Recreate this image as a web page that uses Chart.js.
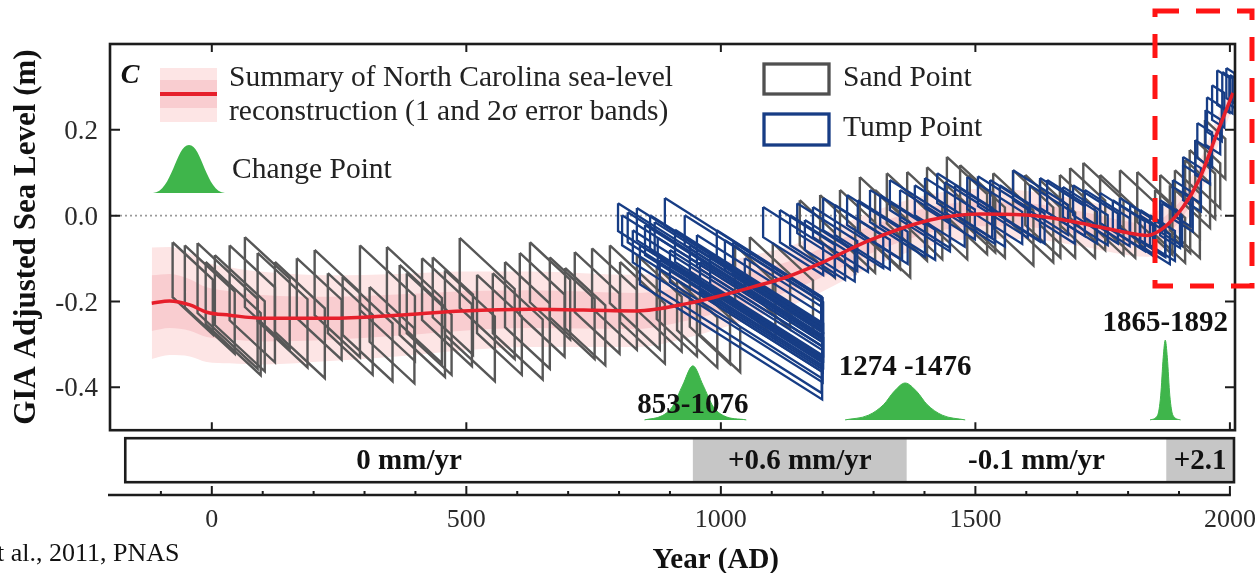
<!DOCTYPE html>
<html>
<head>
<meta charset="utf-8">
<script src="https://cdn.jsdelivr.net/npm/chart.js@4.4.0/dist/chart.umd.min.js"></script>
<style>
  html, body { margin: 0; padding: 0; background: #fff; }
  canvas { display: block; }
</style>
</head>
<body>
<canvas id="myChart" width="1255" height="573"></canvas>
<script>
// summary reconstruction (year AD, GIA adjusted level in m, 1 sigma in m)
const curveYears = [-118, -83, -43, -10, 35, 100, 232, 363, 493, 625, 835, 933, 998, 1063, 1130, 1194, 1293, 1411, 1509, 1607, 1705, 1804, 1837, 1869, 1908, 1940, 1974, 2006];
const curveLevels = [-0.204, -0.199, -0.208, -0.225, -0.232, -0.239, -0.239, -0.232, -0.222, -0.218, -0.222, -0.205, -0.187, -0.166, -0.143, -0.112, -0.057, -0.010, 0.004, 0.001, -0.017, -0.041, -0.046, -0.029, 0.020, 0.085, 0.190, 0.286];
const curveSigma = [0.065, 0.063, 0.060, 0.058, 0.056, 0.054, 0.050, 0.048, 0.046, 0.044, 0.042, 0.040, 0.038, 0.037, 0.035, 0.034, 0.032, 0.030, 0.029, 0.028, 0.027, 0.026, 0.025, 0.024, 0.022, 0.020, 0.018, 0.016];

// Sand Point samples: age range and adjusted level range at the older end
const sandGia = 0.0011;
const sandFrom = [-77, -53, -28, -12, 65, 90, 167, 228, 257, 291, 310, 344, 383, 413, 434, 487, 521, 552, 605, 625, 664, 713, 747, 782, 835, 874, 914, 959, 1057, 1102,
  1155, 1195, 1234, 1273, 1326, 1366, 1405, 1444, 1489, 1535, 1574, 1627, 1666, 1712, 1745, 1784, 1818, 1853, 1882, 1912, 1932,
  6, 35, 124, 202, 369, 458, 576, 694, 802, 939, 1028,
  1303, 1470, 1598, 1686, 1863, 1892, 1921, 1951];
const sandTo = [2, 45, 90, 96, 153, 188, 255, 316, 355, 399, 398, 452, 471, 511, 513, 595, 609, 650, 693, 704, 752, 801, 835, 880, 923, 953, 993, 1038, 1136, 1181,
  1224, 1264, 1303, 1352, 1405, 1435, 1484, 1523, 1558, 1614, 1653, 1696, 1735, 1791, 1814, 1853, 1887, 1912, 1941, 1961, 1981,
  104, 124, 222, 291, 458, 556, 664, 773, 890, 1018, 1107,
  1372, 1539, 1667, 1755, 1922, 1941, 1971, 1991];
const sandHigh = [-0.062, -0.069, -0.064, -0.108, -0.050, -0.087, -0.099, -0.134, -0.143, -0.069, -0.166, -0.073, -0.134, -0.099, -0.097, -0.052, -0.138, -0.134, -0.087, -0.062, -0.097, -0.085, -0.076, -0.069, -0.092, -0.120, -0.150, -0.173, -0.050, -0.064,
  0.036, 0.048, 0.060, 0.090, 0.099, 0.102, 0.113, 0.137, 0.095, 0.099, 0.106, 0.083, 0.095, 0.123, 0.095, 0.106, 0.102, 0.060, 0.071, 0.130, 0.176,
  -0.092, -0.069, -0.108, -0.080, -0.115, -0.127, -0.108, -0.122, -0.108, -0.131, -0.069,
  0.060, 0.118, 0.095, 0.111, 0.095, 0.106, 0.153, 0.223];
const sandLow = [-0.190, -0.214, -0.227, -0.253, -0.213, -0.246, -0.239, -0.274, -0.278, -0.220, -0.294, -0.225, -0.274, -0.243, -0.237, -0.215, -0.274, -0.274, -0.232, -0.202, -0.237, -0.225, -0.216, -0.204, -0.220, -0.241, -0.267, -0.278, -0.178, -0.192,
  -0.069, -0.057, -0.057, -0.038, -0.018, -0.026, -0.015, -0.003, -0.022, -0.029, -0.022, -0.022, -0.022, -0.005, -0.022, -0.022, -0.015, -0.045, -0.034, 0.025, 0.071,
  -0.255, -0.244, -0.271, -0.232, -0.278, -0.278, -0.260, -0.262, -0.248, -0.259, -0.197,
  -0.068, -0.010, -0.022, -0.005, -0.022, 0.001, 0.048, 0.130];

// Tump Point samples
const tumpGia = 0.00075;
const tumpFrom = [798, 817, 835, 851, 861, 876, 890, 910, 939, 953, 979, 992, 1024, 1047, 841, 880,
  1083, 1116, 1150, 1181, 1201, 1248, 1293, 1332, 1381, 1425, 1460, 1484, 1529, 1574, 1607, 1641, 1672, 1715, 1745, 1770, 1804,
  1843, 1867, 1888, 1908, 1936, 1955, 1975, 1993, 1824,
  806, 827, 870, 900, 929, 959, 1008,
  1136, 1165, 1224, 1269, 1313, 1352, 1401, 1440, 1505, 1548, 1627, 1692, 1784, 1823,
  1863, 1888, 1908, 1932, 1952, 1965, 1985, 2000];
const tumpTo = [1201, 1200, 1200, 1201, 1199, 1200, 1200, 1201, 1200, 1199, 1199, 1198, 1197, 1200, 1199, 1198,
  1201, 1224, 1268, 1289, 1319, 1356, 1401, 1450, 1479, 1533, 1558, 1592, 1627, 1682, 1695, 1739, 1760, 1803, 1833, 1849, 1873,
  1892, 1906, 1927, 1943, 1965, 1984, 1999, 2009, 1873,
  1199, 1200, 1200, 1199, 1200, 1199, 1201,
  1244, 1263, 1332, 1367, 1421, 1450, 1499, 1538, 1603, 1636, 1715, 1780, 1853, 1882,
  1902, 1923, 1943, 1961, 1981, 1989, 2005, 2010];
const tumpHigh = [0.029, 0.008, 0.018, -0.022, 0.001, -0.052, 0.041, -0.033, -0.069, -0.045, -0.092, -0.034, -0.062, -0.099, -0.069, -0.103,
  0.020, 0.013, 0.029, 0.020, 0.041, 0.048, 0.060, 0.083, 0.071, 0.099, 0.071, 0.090, 0.083, 0.106, 0.071, 0.083, 0.067, 0.060, 0.053, 0.036, 0.025,
  0.001, 0.029, 0.067, 0.137, 0.216, 0.276, 0.339, 0.344, 0.013,
  0.001, -0.034, -0.015, -0.080, 0.001, -0.108, -0.057,
  0.001, -0.010, 0.025, 0.036, 0.048, 0.060, 0.088, 0.078, 0.092, 0.071, 0.088, 0.071, 0.041, 0.001,
  0.036, 0.083, 0.118, 0.176, 0.246, 0.304, 0.335, 0.328];
const tumpLow = [-0.036, -0.062, -0.057, -0.092, -0.081, -0.122, -0.024, -0.108, -0.139, -0.120, -0.162, -0.104, -0.136, -0.169, -0.160, -0.175,
  -0.050, -0.062, -0.041, -0.050, -0.034, -0.022, -0.015, 0.013, 0.001, 0.029, 0.001, 0.015, 0.013, 0.036, 0.001, 0.008, -0.003, -0.005, -0.017, -0.034, -0.045,
  -0.069, -0.041, -0.008, 0.055, 0.134, 0.195, 0.258, 0.274, -0.057,
  -0.069, -0.109, -0.085, -0.155, -0.069, -0.178, -0.127,
  -0.069, -0.080, -0.045, -0.039, -0.022, -0.010, 0.018, 0.008, 0.022, 0.001, 0.018, 0.001, -0.029, -0.069,
  -0.046, 0.001, 0.036, 0.095, 0.165, 0.223, 0.253, 0.258];

// change point distributions
const changeBase = -0.476;
const changeYears = [
  [850, 885, 905, 925, 945, 965, 985, 1005, 1050],
  [1244, 1290, 1320, 1340, 1362, 1385, 1405, 1435, 1480],
  [1843, 1858, 1864, 1869, 1873, 1877, 1882, 1888, 1903]
];
const changeLevels = [
  [-0.476, -0.466, -0.445, -0.395, -0.350, -0.395, -0.445, -0.466, -0.476],
  [-0.476, -0.465, -0.440, -0.410, -0.390, -0.410, -0.440, -0.465, -0.476],
  [-0.476, -0.465, -0.420, -0.330, -0.290, -0.330, -0.420, -0.465, -0.476]
];
const changeLabels = ['853-1076', '1274 -1476', '1865-1892'];

// rate segments
const rateFrom = [-170, 945, 1365, 1875];
const rateTo = [945, 1365, 1875, 2008];
const rateLabels = ['0 mm/yr', '+0.6 mm/yr', '-0.1 mm/yr', '+2.1'];
const rateShaded = [false, true, false, true];

const xTicks = [0, 500, 1000, 1500, 2000];
const yTicks = [-0.4, -0.2, 0, 0.2];

const serif = "'Liberation Serif', 'Times New Roman', serif";

function boxPoints(from, to, high, low, gia) {
    const drop = gia * (to - from);
    return [
        {x: from, y: high}, {x: to, y: high - drop},
        {x: to, y: low - drop}, {x: from, y: low}, {x: from, y: high}
    ];
}

const datasets = [];

datasets.push({
    data: curveYears.map((yr, i) => ({x: yr, y: curveLevels[i]})),
    borderColor: '#e61f2b', borderWidth: 3.5, pointRadius: 0,
    cubicInterpolationMode: 'monotone', fill: false, order: 0
});

for (let i = 0; i < tumpFrom.length; i++) {
    datasets.push({
        data: boxPoints(tumpFrom[i], tumpTo[i], tumpHigh[i], tumpLow[i], tumpGia),
        borderColor: '#173d85', borderWidth: 2.3, pointRadius: 0, tension: 0,
        borderJoinStyle: 'miter', fill: false, order: 1
    });
}

for (let i = 0; i < sandFrom.length; i++) {
    datasets.push({
        data: boxPoints(sandFrom[i], sandTo[i], sandHigh[i], sandLow[i], sandGia),
        borderColor: '#575757', borderWidth: 2.4, pointRadius: 0, tension: 0,
        borderJoinStyle: 'miter', fill: false, order: 2
    });
}

changeYears.forEach((yrs, k) => {
    datasets.push({
        data: yrs.map((yr, i) => ({x: yr, y: changeLevels[k][i]})),
        borderColor: '#3fb54b', backgroundColor: '#3fb54b', borderWidth: 1,
        pointRadius: 0, cubicInterpolationMode: 'monotone',
        fill: {value: changeBase}, order: 3
    });
});

// 1 sigma band
datasets.push({
    data: curveYears.map((yr, i) => ({x: yr, y: curveLevels[i] + curveSigma[i]})),
    borderWidth: 0, pointRadius: 0, cubicInterpolationMode: 'monotone', fill: false, order: 4
});
datasets.push({
    data: curveYears.map((yr, i) => ({x: yr, y: curveLevels[i] - curveSigma[i]})),
    borderWidth: 0, pointRadius: 0, cubicInterpolationMode: 'monotone',
    fill: '-1', backgroundColor: '#f9cdd0', order: 4
});
// 2 sigma band
datasets.push({
    data: curveYears.map((yr, i) => ({x: yr, y: curveLevels[i] + 2 * curveSigma[i]})),
    borderWidth: 0, pointRadius: 0, cubicInterpolationMode: 'monotone', fill: false, order: 5
});
datasets.push({
    data: curveYears.map((yr, i) => ({x: yr, y: curveLevels[i] - 2 * curveSigma[i]})),
    borderWidth: 0, pointRadius: 0, cubicInterpolationMode: 'monotone',
    fill: '-1', backgroundColor: '#fde5e5', order: 5
});

const decorations = {
    id: 'decorations',
    beforeDatasetsDraw(chart) {
        const {ctx, scales: {x, y}} = chart;
        ctx.save();
        ctx.strokeStyle = '#9a9a9a';
        ctx.lineWidth = 1.6;
        ctx.setLineDash([2, 3]);
        ctx.beginPath();
        ctx.moveTo(x.getPixelForValue(-200), y.getPixelForValue(0));
        ctx.lineTo(x.getPixelForValue(2010), y.getPixelForValue(0));
        ctx.stroke();
        ctx.restore();
    },
    afterDatasetsDraw(chart) {
        const {ctx, scales: {x, y}, chartArea} = chart;
        const L = x.getPixelForValue(-200), R = x.getPixelForValue(2010);
        const T = y.getPixelForValue(0.4), B = y.getPixelForValue(-0.5);
        ctx.save();
        ctx.setLineDash([]);

        // change point labels
        ctx.fillStyle = '#111';
        ctx.font = 'bold 29px ' + serif;
        ctx.textAlign = 'center';
        ctx.textBaseline = 'middle';
        const labelShift = [40, -15, -17];
        changeYears.forEach((yrs, k) => {
            const peak = Math.max(...changeLevels[k]);
            const px = x.getPixelForValue(yrs[4]);
            ctx.fillText(changeLabels[k], px, y.getPixelForValue(peak) + labelShift[k]);
        });

        // plot frame
        ctx.strokeStyle = '#1c1c1c';
        ctx.lineWidth = 2.6;
        ctx.strokeRect(L, T, R - L, B - T);
        ctx.lineWidth = 2;
        ctx.beginPath();
        xTicks.forEach(v => {
            const px = x.getPixelForValue(v);
            ctx.moveTo(px, T); ctx.lineTo(px, T + 8);
            ctx.moveTo(px, B); ctx.lineTo(px, B - 8);
        });
        yTicks.forEach(v => {
            const py = y.getPixelForValue(v);
            ctx.moveTo(L, py); ctx.lineTo(L + 10, py);
            ctx.moveTo(R, py); ctx.lineTo(R - 10, py);
        });
        ctx.stroke();

        // rate band
        const bT = B + 8, bB = B + 52;
        ctx.fillStyle = '#c6c6c6';
        rateFrom.forEach((f, i) => {
            if (rateShaded[i]) {
                const a = x.getPixelForValue(f), b = x.getPixelForValue(rateTo[i]);
                ctx.fillRect(a, bT, b - a, bB - bT);
            }
        });
        const bL = x.getPixelForValue(rateFrom[0]);
        const bR = x.getPixelForValue(rateTo[rateTo.length - 1]);
        ctx.lineWidth = 2.6;
        ctx.strokeRect(bL, bT, bR - bL, bB - bT);
        ctx.fillStyle = '#111';
        ctx.font = 'bold 29px ' + serif;
        rateLabels.forEach((t, i) => {
            const mid = (x.getPixelForValue(rateFrom[i]) + x.getPixelForValue(rateTo[i])) / 2;
            ctx.fillText(t, mid, (bT + bB) / 2 + 1);
        });

        // lower x axis
        const aY = chartArea.bottom;
        ctx.strokeStyle = '#1c1c1c';
        ctx.lineWidth = 2.6;
        ctx.beginPath();
        ctx.moveTo(L - 2, aY);
        ctx.lineTo(x.getPixelForValue(2000) + 1, aY);
        ctx.stroke();
        ctx.lineWidth = 2;
        ctx.beginPath();
        for (let yr = -100; yr <= 2000; yr += 100) {
            const px = x.getPixelForValue(yr);
            const len = yr % 500 === 0 ? 9 : 4;
            ctx.moveTo(px, aY); ctx.lineTo(px, aY - len);
        }
        ctx.stroke();

        // axis titles
        ctx.fillStyle = '#111';
        ctx.font = 'bold 29px ' + serif;
        ctx.fillText('Year (AD)', x.getPixelForValue(990), 561);
        ctx.save();
        ctx.translate(27, (T + B) / 2);
        ctx.rotate(-Math.PI / 2);
        ctx.font = 'bold 31px ' + serif;
        ctx.fillText('GIA Adjusted Sea Level (m)', 0, 0);
        ctx.restore();

        // citation
        ctx.font = '26px ' + serif;
        ctx.textAlign = 'left';
        ctx.fillStyle = '#111';
        ctx.fillText('t al., 2011, PNAS', -3, 554);

        // legend
        ctx.font = 'bold italic 28px ' + serif;
        ctx.textAlign = 'center';
        ctx.fillText('C', 130, 76);

        ctx.fillStyle = '#fde5e5';
        ctx.fillRect(160, 68, 57, 54);
        ctx.fillStyle = '#f9cdd0';
        ctx.fillRect(160, 80, 57, 28);
        ctx.strokeStyle = '#e61f2b';
        ctx.lineWidth = 4;
        ctx.beginPath();
        ctx.moveTo(160, 94); ctx.lineTo(217, 94);
        ctx.stroke();

        ctx.fillStyle = '#3fb54b';
        ctx.beginPath();
        ctx.moveTo(153, 193);
        ctx.bezierCurveTo(172, 192, 176, 145, 189, 145);
        ctx.bezierCurveTo(202, 145, 206, 192, 225, 193);
        ctx.closePath();
        ctx.fill();

        ctx.fillStyle = '#222';
        ctx.font = '29.5px ' + serif;
        ctx.textAlign = 'left';
        ctx.fillText('Summary of North Carolina sea-level', 229, 78);
        ctx.fillText('reconstruction (1 and 2\u03c3 error bands)', 229, 112);
        ctx.fillText('Change Point', 232, 170);
        ctx.fillText('Sand Point', 843, 78);
        ctx.fillText('Tump Point', 843, 128);

        ctx.lineWidth = 3.3;
        ctx.strokeStyle = '#505050';
        ctx.strokeRect(764, 64, 65, 30);
        ctx.strokeStyle = '#173d85';
        ctx.strokeRect(764, 114, 65, 31);

        // highlight box
        ctx.strokeStyle = '#ff1414';
        ctx.lineWidth = 5;
        ctx.setLineDash([24, 17]);
        ctx.strokeRect(1155, 11, 97, 275);
        ctx.restore();
    }
};

const config = {
    type: 'line',
    data: {datasets: datasets},
    options: {
        responsive: false,
        animation: false,
        layout: {padding: {top: 44, right: 20, left: 0, bottom: 0}},
        plugins: {legend: {display: false}, tooltip: {enabled: false}},
        scales: {
            x: {
                type: 'linear', min: -200, max: 2010,
                afterFit(s) { s.height = 78; s.paddingLeft = 0; s.paddingRight = 0; },
                afterBuildTicks(s) { s.ticks = xTicks.map(v => ({value: v})); },
                grid: {display: false, drawTicks: false},
                border: {display: false},
                ticks: {
                    font: {family: serif, size: 26}, color: '#2a2a2a', padding: 10,
                    maxRotation: 0, autoSkip: false, callback: v => String(v)
                }
            },
            y: {
                min: -0.651, max: 0.4,
                afterFit(s) { s.width = 110; s.paddingTop = 0; s.paddingBottom = 0; },
                afterBuildTicks(s) { s.ticks = yTicks.map(v => ({value: v})); },
                grid: {display: false, drawTicks: false},
                border: {display: false},
                ticks: {
                    font: {family: serif, size: 27}, color: '#2a2a2a', padding: 12,
                    labelOffset: 2, callback: v => v.toFixed(1)
                }
            }
        }
    },
    plugins: [decorations]
};

const myChart = new Chart(document.getElementById('myChart'), config);
</script>
</body>
</html>
